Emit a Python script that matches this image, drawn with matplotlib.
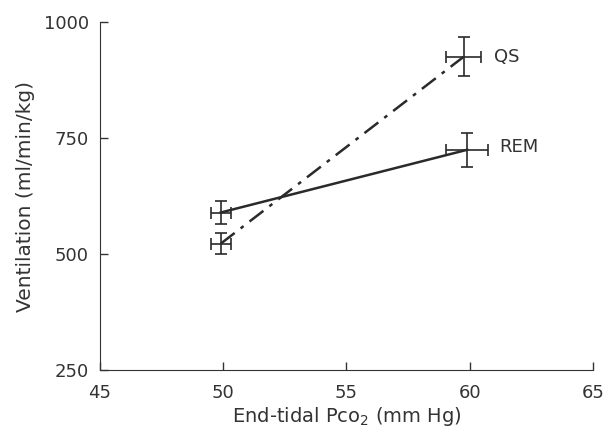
import matplotlib
matplotlib.use('Agg')
import matplotlib.pyplot as plt

# end-tidal PCO2 (mm Hg) and ventilation (ml/min/kg)
rem_x = [49.9, 59.9]
rem_y = [590, 725]
rem_xerr = [0.4, 0.85]
rem_yerr = [25, 37]

qs_x = [49.9, 59.75]
qs_y = [523, 925]
qs_xerr = [0.4, 0.7]
qs_yerr = [23, 42]

xticks = [45, 50, 55, 60, 65]
yticks = [250, 500, 750, 1000]

ink = '#2a2a2a'

fig = plt.figure(figsize=(6.1, 4.4), dpi=100)
ax = fig.add_axes([0.164, 0.158, 0.808, 0.792])

ax.plot(rem_x, rem_y, color=ink, lw=1.8, ls='-')
ax.plot(qs_x, qs_y, color=ink, lw=1.8, ls=(0, (7, 3, 1.5, 3)))
ax.errorbar(rem_x, rem_y, xerr=rem_xerr, yerr=rem_yerr, fmt='none',
            ecolor=ink, elinewidth=1.2, capsize=4, capthick=1.2)
ax.errorbar(qs_x, qs_y, xerr=qs_xerr, yerr=qs_yerr, fmt='none',
            ecolor=ink, elinewidth=1.2, capsize=4, capthick=1.2)

ax.text(61.0, qs_y[1], 'QS', fontsize=13, color='#333333', va='center')
ax.text(61.2, rem_y[1] + 5, 'REM', fontsize=13, color='#333333', va='center')

ax.set_xlim(45, 65)
ax.set_ylim(250, 1000)
ax.set_xticks(xticks)
ax.set_yticks(yticks)
ax.tick_params(direction='in', length=6, width=1, labelsize=13, colors='#333333')
ax.tick_params(axis='x', pad=10)
ax.tick_params(axis='y', pad=8)
ax.spines['top'].set_visible(False)
ax.spines['right'].set_visible(False)
ax.spines['left'].set_color('#333333')
ax.spines['bottom'].set_color('#333333')

ax.set_xlabel('End-tidal Pco$_2$ (mm Hg)', fontsize=14, color='#333333', labelpad=2)
ax.set_ylabel('Ventilation (ml/min/kg)', fontsize=14.5, color='#333333', labelpad=6)

fig.savefig('out.png', dpi=100)
